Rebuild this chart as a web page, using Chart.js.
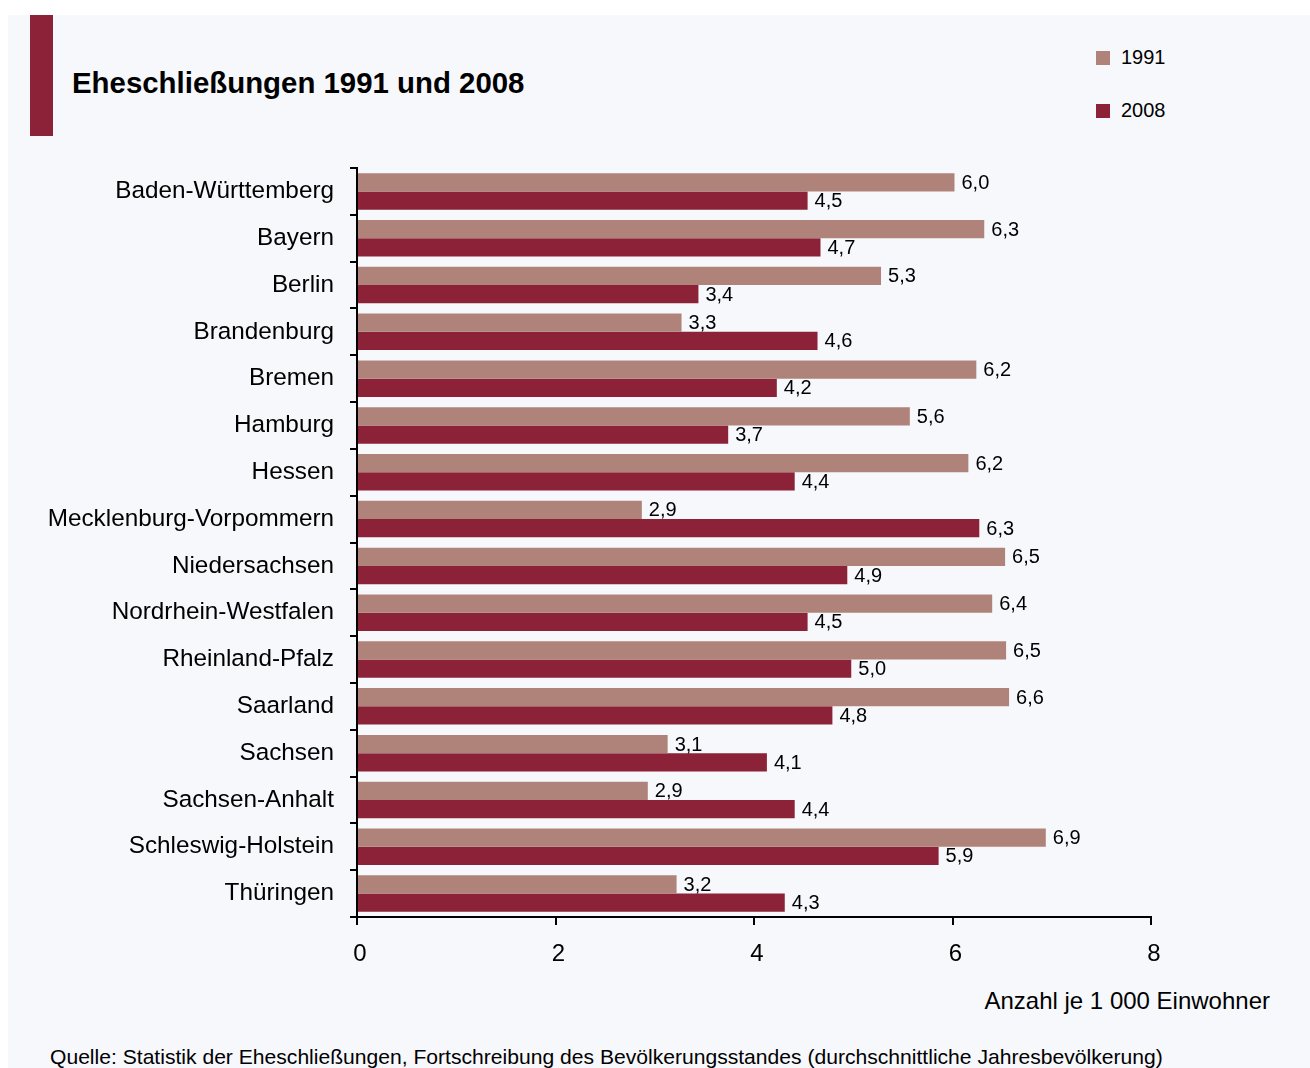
<!DOCTYPE html>
<html lang="de">
<head>
<meta charset="utf-8">
<script src="https://cdn.jsdelivr.net/npm/chart.js@4"></script>
<style>
  html, body { margin: 0; padding: 0; background: #ffffff; }
  body { width: 1310px; height: 1068px; position: relative; overflow: hidden; font-family: "Liberation Sans", Arial, sans-serif; }
  #panel { position: absolute; left: 8px; top: 15px; width: 1302px; height: 1053px; background: #f7f8fc; }
  #bar { position: absolute; left: 30px; top: 15px; width: 23px; height: 121px; background: #8b2238; }
  #title { position: absolute; left: 72px; top: 66px; font-size: 29.4px; font-weight: bold; color: #000; white-space: nowrap; }
  .leg { position: absolute; left: 1096px; font-size: 20px; color: #000; white-space: nowrap; }
  .leg span.sw { display: inline-block; width: 14px; height: 14px; margin-right: 11px; vertical-align: -1px; }
  #xtitle { position: absolute; right: 40px; top: 987px; font-size: 24px; color: #000; white-space: nowrap; }
  #source { position: absolute; left: 50px; top: 1045px; font-size: 21.1px; color: #000; white-space: nowrap; }
  #c { position: absolute; left: 0; top: 0; }
</style>
</head>
<body>
<div id="panel"></div>
<div id="bar"></div>
<div id="title">Eheschließungen 1991 und 2008</div>
<div class="leg" style="top:46px"><span class="sw" style="background:#b0837a"></span>1991</div>
<div class="leg" style="top:99px"><span class="sw" style="background:#8b2238"></span>2008</div>
<div id="xtitle">Anzahl je 1 000 Einwohner</div>
<div id="source">Quelle: Statistik der Eheschließungen, Fortschreibung des Bevölkerungsstandes (durchschnittliche Jahresbevölkerung)</div>
<canvas id="c" width="1310" height="1068"></canvas>
<script>
const categories = ["Baden-Württemberg","Bayern","Berlin","Brandenburg","Bremen","Hamburg","Hessen","Mecklenburg-Vorpommern","Niedersachsen","Nordrhein-Westfalen","Rheinland-Pfalz","Saarland","Sachsen","Sachsen-Anhalt","Schleswig-Holstein","Thüringen"];
const values1991 = [6.02, 6.32, 5.28, 3.27, 6.24, 5.57, 6.16, 2.87, 6.53, 6.40, 6.54, 6.57, 3.13, 2.93, 6.94, 3.22];
const values2008 = [4.54, 4.67, 3.44, 4.64, 4.23, 3.74, 4.41, 6.27, 4.94, 4.54, 4.98, 4.79, 4.13, 4.41, 5.86, 4.31];
const xTicks = [0, 2, 4, 6, 8];

const valueLabels = {
  id: 'valueLabels',
  afterDatasetsDraw(chart) {
    const ctx = chart.ctx;
    ctx.save();
    ctx.font = '20px "Liberation Sans", Arial, sans-serif';
    ctx.fillStyle = '#000';
    ctx.textAlign = 'left';
    ctx.textBaseline = 'middle';
    chart.data.datasets.forEach((ds, i) => {
      chart.getDatasetMeta(i).data.forEach((bar, j) => {
        const txt = ds.data[j].toFixed(1).replace('.', ',');
        ctx.fillText(txt, bar.x + 7, bar.y + 1);
      });
    });
    ctx.restore();
  }
};

new Chart(document.getElementById('c'), {
  type: 'bar',
  data: {
    labels: categories,
    datasets: [
      { label: '1991', data: values1991, backgroundColor: '#b0837a', categoryPercentage: 0.78, barPercentage: 1.0 },
      { label: '2008', data: values2008, backgroundColor: '#8b2238', categoryPercentage: 0.78, barPercentage: 1.0 }
    ]
  },
  options: {
    indexAxis: 'y',
    responsive: false,
    animation: false,
    layout: { padding: { left: 0, top: 168, right: 159, bottom: 0 } },
    plugins: { legend: { display: false }, tooltip: { enabled: false }, title: { display: false } },
    scales: {
      x: {
        min: 0, max: 8,
        afterBuildTicks(scale) { scale.ticks = xTicks.map(v => ({ value: v })); },
        afterFit(scale) { scale.height = 151; },
        border: { display: true, color: '#000', width: 2 },
        grid: { drawOnChartArea: false, drawTicks: true, tickLength: 8, tickColor: '#000', tickWidth: 2, lineWidth: 2, color: '#000' },
        ticks: { color: '#000', font: { size: 24, family: '"Liberation Sans", Arial, sans-serif' }, padding: 15, labelOffset: 3, callback: v => String(v) }
      },
      y: {
        afterFit(scale) { scale.width = 357; },
        border: { display: true, color: '#000', width: 2 },
        grid: { drawOnChartArea: false, drawTicks: true, tickLength: 7, tickColor: '#000', tickWidth: 2, lineWidth: 2, color: '#000' },
        ticks: { color: '#000', font: { size: 24.3, family: '"Liberation Sans", Arial, sans-serif' }, padding: 16 }
      }
    }
  },
  plugins: [valueLabels]
});
</script>
</body>
</html>
